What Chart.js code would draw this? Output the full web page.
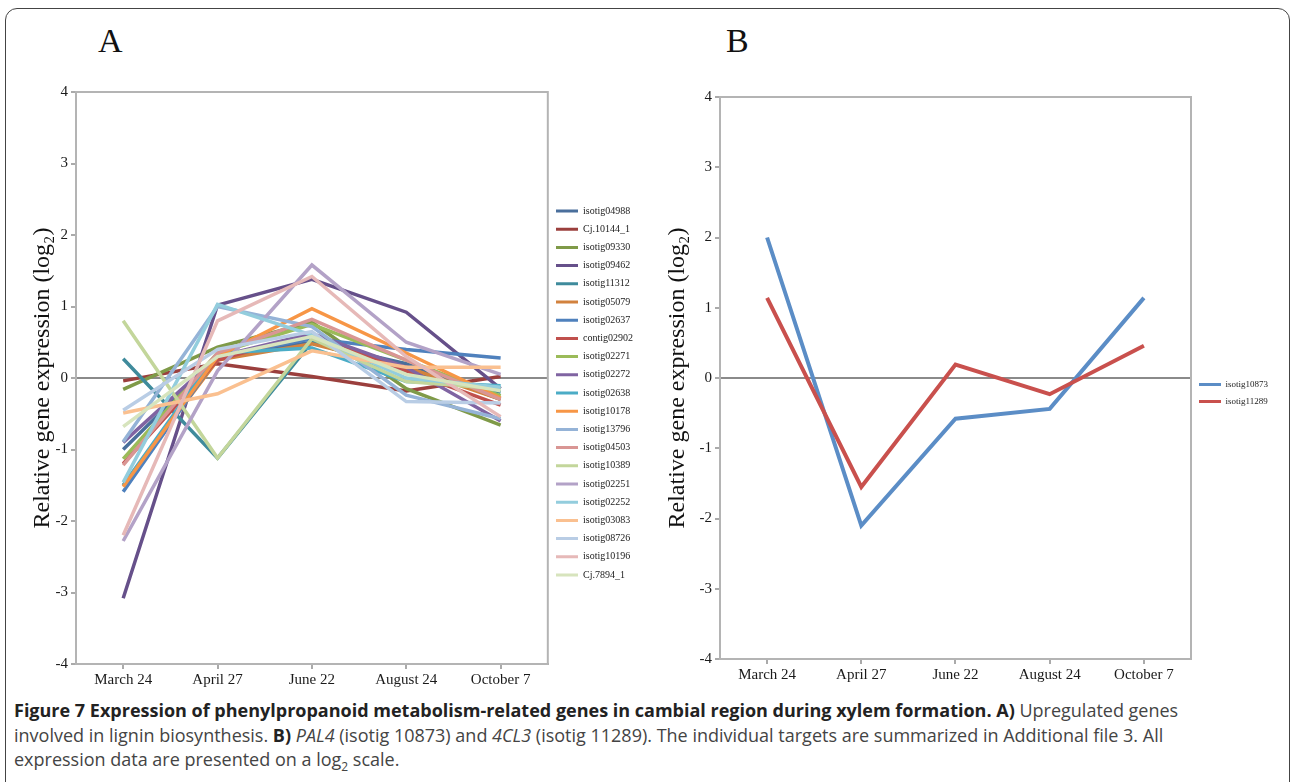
<!DOCTYPE html>
<html>
<head>
<meta charset="utf-8">
<script src="https://cdn.jsdelivr.net/npm/chart.js@4"></script>
<style>
  body { margin: 0; background: #fff; }
  #page { position: relative; width: 1293px; height: 782px; overflow: hidden; }
  #frame { position: absolute; left: 5px; top: 8px; width: 1283px; height: 790px; border: 1.5px solid #444; border-radius: 12px; }
  .letter { position: absolute; top: 22px; font-family: "Liberation Serif", serif; font-size: 34px; color: #111; }
  canvas { position: absolute; }
  #caption { position: absolute; left: 14px; top: 698px; font-family: "Open Sans", sans-serif; font-size: 18px; color: #444; line-height: 24.5px; }
  #caption div { white-space: nowrap; }
  #caption b { color: #222; }
</style>
</head>
<body>
<div id="page">
  <div id="frame"></div>
  <div class="letter" style="left:98px">A</div>
  <div class="letter" style="left:726px">B</div>
  <canvas id="chartA" width="633" height="614" style="left:10px; top:80px"></canvas>
  <canvas id="chartB" width="618" height="609" style="left:660px; top:80px"></canvas>
  <div id="caption">
    <div><b>Figure 7 Expression of phenylpropanoid metabolism-related genes in cambial region during xylem formation. A)</b> Upregulated genes</div>
    <div>involved in lignin biosynthesis. <b>B)</b> <i>PAL4</i> (isotig 10873) and <i>4CL3</i> (isotig 11289). The individual targets are summarized in Additional file 3. All</div>
    <div>expression data are presented on a log<sub style="font-size:12px">2</sub> scale.</div>
  </div>
</div>
<script>
const dates = ['March 24', 'April 27', 'June 22', 'August 24', 'October 7'];

// panel A: upregulated lignin genes
const isotig04988 = [-1.0, 0.3, 0.5, 0.2, -0.3];
const cj10144_1 = [-0.04, 0.2, 0.02, -0.18, 0.02];
const isotig09330 = [-0.16, 0.43, 0.78, -0.15, -0.66];
const isotig09462 = [-3.08, 1.02, 1.38, 0.92, -0.15];
const isotig11312 = [0.27, -1.12, 0.5, 0.1, -0.2];
const isotig05079 = [-1.5, 0.25, 0.48, 0.15, -0.3];
const isotig02637 = [-1.59, 0.3, 0.55, 0.4, 0.28];
const contig02902 = [-1.2, 0.25, 0.62, 0.1, -0.38];
const isotig02271 = [-1.13, 0.35, 0.75, 0.25, -0.25];
const isotig02272 = [-0.9, 0.3, 0.62, 0.15, -0.6];
const isotig02638 = [-1.5, 0.35, 0.42, -0.05, -0.11];
const isotig10178 = [-1.52, 0.3, 0.97, 0.35, -0.28];
const isotig13796 = [-0.89, 1.0, 0.72, -0.24, -0.57];
const isotig04503 = [-1.22, 0.35, 0.82, 0.25, -0.3];
const isotig10389 = [0.8, -1.12, 0.55, -0.05, -0.15];
const isotig02251 = [-2.28, 0.1, 1.58, 0.5, 0.05];
const isotig02252 = [-1.46, 1.03, 0.6, 0.0, -0.13];
const isotig03083 = [-0.49, -0.22, 0.38, 0.15, 0.15];
const isotig08726 = [-0.45, 0.4, 0.65, -0.33, -0.35];
const isotig10196 = [-2.2, 0.8, 1.42, 0.3, -0.54];
const cj7894_1 = [-0.68, 0.3, 0.58, 0.05, -0.18];

const namesA = ['isotig04988', 'Cj.10144_1', 'isotig09330', 'isotig09462', 'isotig11312', 'isotig05079',
    'isotig02637', 'contig02902', 'isotig02271', 'isotig02272', 'isotig02638', 'isotig10178',
    'isotig13796', 'isotig04503', 'isotig10389', 'isotig02251', 'isotig02252', 'isotig03083',
    'isotig08726', 'isotig10196', 'Cj.7894_1'];
const valuesA = [isotig04988, cj10144_1, isotig09330, isotig09462, isotig11312, isotig05079,
    isotig02637, contig02902, isotig02271, isotig02272, isotig02638, isotig10178,
    isotig13796, isotig04503, isotig10389, isotig02251, isotig02252, isotig03083,
    isotig08726, isotig10196, cj7894_1];
const colorsA = ['#4a6f9c', '#9b3f3d', '#7f9a48', '#66508a', '#3f8b9c', '#d2823e',
    '#4f81bd', '#c0504d', '#9bbb59', '#8064a2', '#4bacc6', '#f79646',
    '#95b3d7', '#d99694', '#c3d69b', '#b3a2c7', '#93cddd', '#fac090',
    '#b9cde5', '#e6b9b8', '#d7e4bd'];

// panel B: PAL4 and 4CL3
const namesB = ['isotig10873', 'isotig11289'];
const isotig10873 = [2.0, -2.1, -0.58, -0.44, 1.14];
const isotig11289 = [1.14, -1.55, 0.19, -0.23, 0.46];
const colorsB = ['#5b8dc6', '#c9504d'];

const yTicks = [-4, -3, -2, -1, 0, 1, 2, 3, 4];

const serif = 'Liberation Serif';

const plotFrame = {
    id: 'plotFrame',
    beforeDatasetsDraw(chart) {
        const a = chart.chartArea;
        const ctx = chart.ctx;
        ctx.save();
        ctx.strokeStyle = '#b4b4b4';
        ctx.lineWidth = 2;
        ctx.strokeRect(a.left, a.top, a.right - a.left, a.bottom - a.top);
        ctx.restore();
    }
};

function legendLabels(chart) {
    let items = Chart.defaults.plugins.legend.labels.generateLabels(chart);
    items.forEach(item => {
        item.fillStyle = item.strokeStyle;
        item.lineWidth = 0;
    });
    return items;
}

function makeOptions(padTop, yWidth, titlePad, legendFont, legendPad) {
    return {
        responsive: false,
        animation: false,
        layout: { padding: { top: padTop, left: 0, right: 0, bottom: 0 } },
        plugins: {
            tooltip: { enabled: false },
            legend: {
                position: 'right',
                labels: {
                    boxWidth: 22,
                    boxHeight: 3,
                    padding: legendPad,
                    color: '#222',
                    font: { family: serif, size: legendFont },
                    generateLabels: legendLabels,
                    sort: (a, b) => a.datasetIndex - b.datasetIndex
                }
            }
        },
        scales: {
            x: {
                offset: true,
                afterFit: scale => { scale.height = 30; },
                grid: { offset: false, drawOnChartArea: false, tickLength: 5, tickColor: '#aaa', lineWidth: 2 },
                border: { color: '#aaa', width: 2 },
                ticks: { color: '#1a1a1a', font: { family: serif, size: 15 }, padding: 2, maxRotation: 0 }
            },
            y: {
                min: -4,
                max: 4,
                afterFit: scale => { scale.width = yWidth; },
                afterBuildTicks: scale => { scale.ticks = yTicks.map(v => ({ value: v })); },
                grid: {
                    color: c => c.tick && c.tick.value === 0 ? '#8a8a8a' : 'rgba(0,0,0,0)',
                    lineWidth: 2,
                    tickLength: 5,
                    tickColor: '#aaa'
                },
                border: { color: '#aaa', width: 2 },
                ticks: { color: '#1a1a1a', font: { family: serif, size: 15 }, padding: 3 },
                title: {
                    display: true,
                    text: 'Relative gene expression (log\u2082)',
                    color: '#111',
                    font: { family: serif, size: 24 },
                    padding: { top: titlePad, bottom: 0 }
                }
            }
        }
    };
}

new Chart(document.getElementById('chartA'), {
    type: 'line',
    data: {
        labels: dates,
        datasets: namesA.map((name, i) => ({
            label: name,
            data: valuesA[i],
            borderColor: colorsA[i],
            backgroundColor: colorsA[i],
            borderWidth: 3.5,
            pointRadius: 0,
            tension: 0,
            order: namesA.length - i
        }))
    },
    options: makeOptions(12, 66, 18, 10, 8.2),
    plugins: [plotFrame]
});

new Chart(document.getElementById('chartB'), {
    type: 'line',
    data: {
        labels: dates,
        datasets: namesB.map((name, i) => ({
            label: name,
            data: [isotig10873, isotig11289][i],
            borderColor: colorsB[i],
            backgroundColor: colorsB[i],
            borderWidth: 4,
            pointRadius: 0,
            tension: 0,
            order: namesB.length - i
        }))
    },
    options: makeOptions(17, 60, 3, 9, 8),
    plugins: [plotFrame]
});
</script>
</body>
</html>
